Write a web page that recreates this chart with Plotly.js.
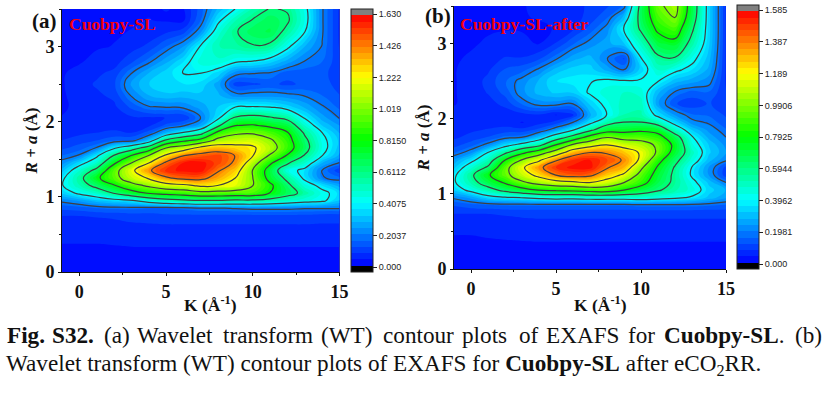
<!DOCTYPE html>
<html><head><meta charset="utf-8">
<script src="https://cdn.plot.ly/plotly-3.0.1.min.js"></script>
<style>html,body{margin:0;padding:0;background:#fff}#c{width:825px;height:394px}</style>
</head><body><div id="c"></div>
<script>
const K = [-1,0,1,2,3,4,5,6,7,8,9,10,11,12,13,14,15];
const R = [0,.3,.6,.75,.85,.95,1.05,1.15,1.25,1.35,1.45,1.55,1.65,1.75,1.85,1.95,2.05,2.2,2.35,2.5,2.65,2.8,3.0,3.2,3.35,3.5];
// panel (a): one list per K column, values along R
const aColumns = [
[.04,.045,.06,.09,.14,.22,.34,.4,.38,.31,.23,.17,.12,.09,.07,.06,.05,.045,.045,.045,.045,.045,.045,.045,.045,.045],
[.04,.045,.06,.09,.15,.26,.43,.53,.56,.49,.36,.21,.15,.11,.08,.07,.06,.055,.06,.07,.06,.045,.045,.045,.045,.045],
[.04,.045,.06,.095,.17,.32,.5,.66,.78,.66,.5,.38,.21,.13,.09,.07,.06,.065,.08,.095,.08,.06,.045,.045,.045,.045],
[.04,.045,.065,.1,.18,.36,.62,.8,.95,.95,.79,.62,.39,.16,.1,.07,.07,.08,.1,.12,.1,.07,.05,.045,.045,.045],
[.04,.045,.075,.11,.18,.39,.74,.95,1.13,1.18,1.02,.82,.52,.17,.09,.07,.08,.14,.21,.26,.2,.12,.07,.05,.045,.045],
[.04,.045,.08,.11,.17,.48,.83,1.05,1.24,1.4,1.22,1.02,.7,.32,.15,.08,.08,.2,.29,.33,.29,.19,.1,.06,.05,.045],
[.04,.045,.08,.12,.17,.55,.87,1.15,1.4,1.56,1.46,1.25,1.02,.65,.3,.14,.09,.21,.32,.37,.35,.28,.17,.08,.045,.05],
[.04,.045,.08,.12,.18,.58,.9,1.18,1.47,1.6,1.59,1.42,1.12,.78,.43,.19,.09,.22,.31,.37,.41,.37,.25,.11,.04,.045],
[.04,.045,.08,.12,.2,.6,.96,1.25,1.47,1.61,1.61,1.48,1.28,.88,.55,.27,.205,.27,.32,.36,.41,.47,.42,.24,.17,.15],
[.04,.045,.08,.12,.2,.6,.95,1.22,1.36,1.44,1.52,1.52,1.33,1.08,.88,.58,.38,.33,.3,.27,.36,.48,.53,.47,.38,.3],
[.04,.045,.08,.12,.21,.58,.93,1.18,1.22,1.3,1.4,1.42,1.29,1.13,.99,.81,.64,.4,.23,.11,.23,.42,.56,.6,.53,.41],
[.04,.045,.08,.12,.22,.58,.93,1.02,1.02,1.01,1.1,1.23,1.25,1.15,1.0,.83,.67,.41,.23,.12,.21,.4,.6,.68,.62,.54],
[.04,.045,.08,.12,.22,.55,.81,.85,.75,.73,.84,1.0,1.1,1.05,.93,.78,.63,.4,.23,.14,.2,.35,.58,.7,.68,.62],
[.04,.045,.08,.12,.22,.5,.68,.65,.57,.46,.63,.8,.9,.88,.83,.72,.57,.35,.22,.12,.15,.27,.43,.57,.63,.6],
[.04,.045,.08,.12,.21,.46,.56,.47,.38,.37,.49,.6,.67,.65,.59,.49,.4,.28,.2,.14,.15,.2,.29,.41,.45,.44],
[.04,.045,.08,.11,.21,.43,.44,.37,.21,.2,.29,.41,.45,.44,.41,.33,.27,.21,.17,.14,.14,.17,.2,.21,.21,.21],
[.04,.045,.08,.11,.21,.33,.36,.27,.18,.1,.2,.28,.31,.32,.29,.25,.2,.16,.13,.12,.11,.1,.085,.08,.08,.08]
];
// panel (b): one list per K column, values along R
const bColumns = [
[.035,.04,.055,.09,.13,.21,.33,.38,.37,.31,.25,.16,.11,.08,.07,.06,.06,.045,.045,.045,.045,.045,.045,.045,.045,.045],
[.035,.04,.055,.09,.15,.26,.43,.53,.56,.47,.36,.23,.15,.1,.08,.07,.07,.06,.06,.06,.06,.05,.045,.045,.045,.045],
[.035,.04,.06,.09,.16,.35,.53,.68,.77,.62,.5,.4,.22,.13,.09,.07,.06,.07,.09,.1,.08,.07,.05,.045,.045,.045],
[.035,.04,.065,.095,.17,.38,.64,.81,.94,.93,.79,.56,.35,.18,.1,.07,.06,.1,.14,.16,.13,.09,.06,.045,.045,.045],
[.035,.04,.07,.1,.17,.4,.72,.96,1.1,1.16,1.0,.75,.45,.2,.1,.045,.07,.17,.23,.22,.15,.09,.055,.045,.045,.045],
[.035,.04,.075,.1,.17,.43,.8,1.05,1.24,1.35,1.16,.9,.55,.32,.14,.07,.08,.22,.3,.29,.21,.12,.045,.04,.05,.055],
[.035,.04,.075,.1,.17,.45,.82,1.12,1.39,1.5,1.37,1.08,.8,.5,.25,.1,.045,.22,.33,.36,.3,.19,.09,.05,.06,.065],
[.035,.04,.075,.1,.17,.44,.84,1.15,1.45,1.56,1.5,1.3,1.02,.67,.39,.2,.08,.2,.33,.38,.34,.27,.16,.08,.07,.08],
[.035,.04,.075,.1,.17,.46,.87,1.19,1.42,1.56,1.54,1.39,1.12,.87,.56,.36,.27,.33,.41,.39,.34,.3,.22,.14,.1,.09],
[.035,.04,.075,.1,.17,.46,.88,1.12,1.27,1.4,1.47,1.37,1.2,.99,.72,.53,.4,.43,.46,.42,.27,.2,.27,.22,.16,.12],
[.035,.04,.075,.1,.17,.46,.79,.99,1.16,1.3,1.37,1.28,1.13,.93,.73,.6,.52,.5,.48,.41,.2,.12,.32,.4,.3,.17],
[.035,.04,.075,.1,.18,.48,.7,.86,.93,1.02,1.15,1.17,1.07,.93,.76,.6,.53,.5,.46,.41,.34,.39,.5,.62,.66,.65],
[.035,.04,.075,.1,.18,.45,.61,.68,.72,.77,.85,.96,.96,.86,.73,.52,.36,.25,.29,.4,.48,.56,.7,.83,.9,.96],
[.035,.04,.075,.1,.18,.42,.53,.56,.56,.58,.64,.72,.75,.68,.5,.35,.24,.13,.19,.3,.42,.58,.74,.9,1.0,1.05],
[.035,.04,.075,.1,.18,.38,.46,.43,.38,.39,.46,.5,.45,.41,.32,.22,.17,.1,.15,.26,.36,.43,.54,.62,.68,.7],
[.035,.04,.075,.1,.17,.31,.34,.31,.24,.24,.3,.33,.32,.27,.23,.19,.16,.13,.16,.22,.27,.3,.33,.34,.34,.34],
[.035,.04,.075,.1,.16,.25,.28,.2,.1,.11,.21,.25,.23,.2,.17,.14,.12,.1,.09,.08,.08,.08,.08,.08,.08,.08]
];
const aTicks = ['0.000','0.2037','0.4075','0.6112','0.8150','1.019','1.222','1.426','1.630'];
const aTickVals = [0,.2037,.4075,.6112,.815,1.019,1.222,1.426,1.63];
const bTicks = ['0.000','0.1981','0.3962','0.5944','0.7925','0.9906','1.189','1.387','1.585'];
const bTickVals = [0,.1981,.3962,.5944,.7925,.9906,1.189,1.387,1.585];
const aLines = [.2037,1.426,.2037];
const bLines = [.1981,1.387,.1981];
const captionLine1 = [
  ['<b>Fig.</b>',6],['<b>S32.</b>',51],['(a)',103],['Wavelet',136],['transform',222],['(WT)',320],['contour',382],
  ['plots',461],['of',518],['EXAFS',545],['for',627],['<b>Cuobpy-SL</b>.',663],['(b)',794]];
const captionLine2 = 'Wavelet transform (WT) contour plots of EXAFS for <b>Cuobpy-SL</b> after eCO<sub>2</sub>RR.';

const W=825,H=394;
const transpose = c => R.map((_,i)=>c.map(col=>col[i]));
function scale(top, lo, hi){
  const f=v=>(v-lo)/(hi-lo), size=(hi-lo)/42, low=lo+size, high=hi-size;
  const s=[[0,'#000000'],[f(low)-1e-4,'#000000']];
  [[low,'#0000ff'],[low+(top-low)*.25,'#00ffff'],[low+(top-low)*.5,'#00ff00'],[low+(top-low)*.75,'#ffff00'],[high,'#ff0000']]
    .forEach(p=>s.push([f(p[0]),p[1]]));
  s.push([f(high)+1e-4,'#808080'],[1,'#808080']);
  return s;
}
function panel(cols, top, lines, ticks, tvals, xa, ya, cbx, cbTop, cbLen){
  const lo=-top*.0196, hi=top*1.0203, size=(hi-lo)/42, z=transpose(cols);
  return [{
    type:'contour', x:K, y:R, z, xaxis:xa, yaxis:ya, zmin:lo, zmax:hi, zauto:false,
    colorscale:scale(top,lo,hi), autocontour:false,
    contours:{coloring:'fill',start:lo,end:hi,size,showlines:false},
    line:{width:0,smoothing:1.3}, hoverinfo:'skip',
    colorbar:{x:cbx,xanchor:'left',xref:'paper',y:1-cbTop/H,yanchor:'top',yref:'paper',len:cbLen/H,lenmode:'fraction',
      thickness:22,thicknessmode:'pixels',xpad:0,ypad:0,outlinecolor:'#222',outlinewidth:1,borderwidth:0,
      tickmode:'array',tickvals:tvals,ticktext:ticks,ticks:'outside',ticklen:4,tickwidth:1,tickcolor:'#222',
      tickfont:{family:'Liberation Sans',size:9,color:'#222'}}
  },{
    type:'contour', x:K, y:R, z, xaxis:xa, yaxis:ya, autocontour:false, showscale:false,
    contours:{coloring:'none',start:lines[0],end:lines[1],size:lines[2]},
    line:{color:'#404040',width:1.2,smoothing:1.3}, hoverinfo:'skip'
  }];
}
const axX={range:[-1,15],tickvals:[0,5,10,15],ticks:'outside',ticklen:3,tickwidth:1,tickcolor:'#111',showgrid:false,zeroline:false,
  showline:true,linecolor:'#111',linewidth:1,tickfont:{family:'Liberation Serif',size:18,color:'#111',weight:'bold'},
  minor:{tickvals:[2.5,7.5,12.5],ticks:'outside',ticklen:2,tickcolor:'#111',showgrid:false}};
const axY={range:[0,3.5],tickvals:[0,1,2,3],ticks:'outside',ticklen:3,tickwidth:1,tickcolor:'#111',showgrid:false,zeroline:false,
  showline:true,linecolor:'#111',linewidth:1,tickfont:{family:'Liberation Serif',size:18,color:'#111',weight:'bold'},
  minor:{tickvals:[.5,1.5,2.5,3.5],ticks:'outside',ticklen:2,tickcolor:'#111',showgrid:false},
  title:{text:'<b><i>R</i> + <i>a</i> (Å)</b>',font:{family:'Liberation Serif',size:17,color:'#111'},standoff:3}};
const note=(x,y,text,size,color)=>({xref:'paper',yref:'paper',x:x/W,y:1-y/H,xanchor:'left',yanchor:'middle',showarrow:false,text,
  font:{family:'Liberation Serif',size,color:color||'#111'},borderpad:0});
const FS=23.2;
const layout={width:W,height:H,margin:{l:0,r:0,t:0,b:0},paper_bgcolor:'#fff',plot_bgcolor:'#0000ff',showlegend:false,
  xaxis:{...axX,domain:[62/W,339.5/W],anchor:'y'},yaxis:{...axY,domain:[1-272/H,1-9/H],anchor:'x'},
  xaxis2:{...axX,domain:[454/W,726/W],anchor:'y2'},yaxis2:{...axY,domain:[1-269/H,1-6/H],anchor:'x2'},
  annotations:[
    note(31,21,'<b>(a)</b>',21),note(68,24,'<b>Cuobpy-SL</b>',17.5,'#f00010'),
    note(424,16,'<b>(b)</b>',21),note(459,24,'<b>Cuobpy-SL-after</b>',17.5,'#f00010'),
    note(183,304,'<b>K (Å<sup>-1</sup>)</b>',17.5),note(573,304,'<b>K (Å<sup>-1</sup>)</b>',17.5),
    ...captionLine1.map(([t,x])=>note(x,335,t,FS)),
    note(5,365,captionLine2,FS)
  ]};
const data=[...panel(aColumns,1.63,aLines,aTicks,aTickVals,'x','y',351/W,9,263),
            ...panel(bColumns,1.585,bLines,bTicks,bTickVals,'x2','y2',737/W,5,264)];
Plotly.newPlot('c',data,layout,{displayModeBar:false,staticPlot:true});
</script></body></html>
